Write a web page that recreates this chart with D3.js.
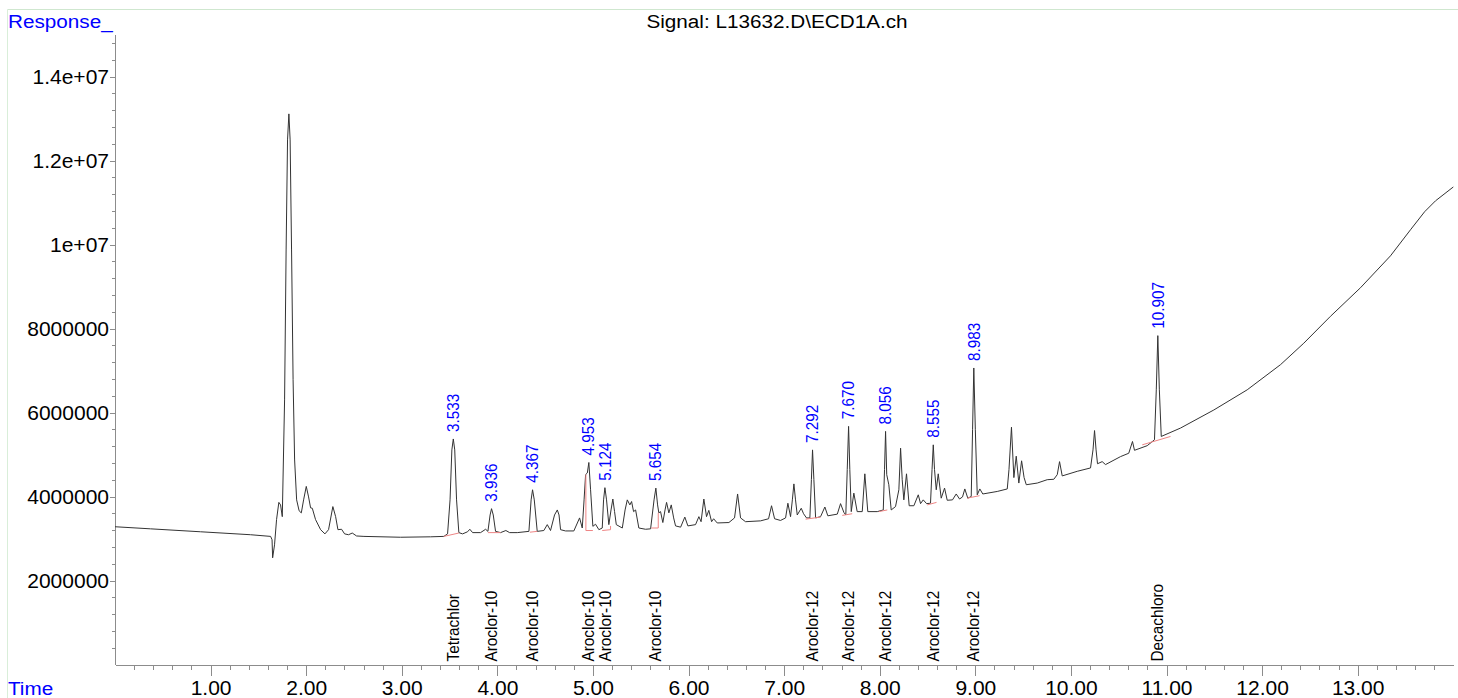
<!DOCTYPE html>
<html><head><meta charset="utf-8">
<script src="https://cdn.jsdelivr.net/npm/d3@7"></script>
<style>
body{margin:0;background:#fff}
svg{display:block}
text{font-family:"Liberation Sans",Arial,Helvetica,sans-serif}
</style>
</head><body>
<svg id="c" width="1458" height="698"></svg>
<script>
// ---------------- DATA ----------------
const title = "Signal: L13632.D\\ECD1A.ch";
const yTitle = "Response_";
const xTitle = "Time";

const xTickValues = [1,2,3,4,5,6,7,8,9,10,11,12,13];
const xTickLabels = ["1.00","2.00","3.00","4.00","5.00","6.00","7.00","8.00","9.00","10.00","11.00","12.00","13.00"];
const yTickValues = [2e6,4e6,6e6,8e6,10e6,12e6,14e6];
const yTickLabels = ["2000000","4000000","6000000","8000000","1e+07","1.2e+07","1.4e+07"];

// chromatogram trace: [retention time (min), response]
const trace = [
[0.000,3.28e6],[0.372,3.23e6],[0.895,3.16e6],[1.418,3.09e6],[1.628,3.05e6],[1.643,2.97e6],[1.649,2.54e6],[1.669,2.85e6],
[1.690,3.45e6],[1.714,3.86e6],[1.732,3.80e6],[1.750,3.52e6],[1.774,6.30e6],[1.790,9.87e6],[1.805,12.49e6],[1.819,13.11e6],
[1.832,12.49e6],[1.847,9.87e6],[1.863,6.78e6],[1.879,4.87e6],[1.900,3.92e6],[1.926,3.66e6],[1.949,3.61e6],[1.973,3.92e6],
[2.001,4.24e6],[2.025,3.99e6],[2.046,3.73e6],[2.064,3.72e6],[2.098,3.45e6],[2.151,3.21e6],[2.196,3.11e6],[2.234,3.21e6],
[2.279,3.76e6],[2.308,3.52e6],[2.332,3.21e6],[2.370,3.22e6],[2.402,3.11e6],[2.443,3.09e6],[2.482,3.13e6],[2.527,3.06e6],
[2.604,3.05e6],[2.987,3.03e6],[3.301,3.04e6],[3.440,3.05e6],[3.479,3.11e6],[3.505,3.92e6],[3.524,5.11e6],[3.539,5.37e6],
[3.554,5.11e6],[3.573,3.92e6],[3.597,3.14e6],[3.636,3.11e6],[3.688,3.16e6],[3.712,3.22e6],[3.741,3.14e6],[3.824,3.14e6],
[3.877,3.22e6],[3.901,3.17e6],[3.924,3.56e6],[3.939,3.71e6],[3.957,3.56e6],[3.981,3.17e6],[4.033,3.14e6],[4.089,3.19e6],
[4.128,3.14e6],[4.208,3.14e6],[4.330,3.17e6],[4.353,3.92e6],[4.368,4.16e6],[4.386,3.92e6],[4.417,3.17e6],[4.486,3.19e6],
[4.522,3.33e6],[4.556,3.19e6],[4.598,3.56e6],[4.627,3.68e6],[4.645,3.56e6],[4.661,3.21e6],[4.713,3.18e6],[4.800,3.18e6],
[4.860,3.49e6],[4.888,3.25e6],[4.907,3.92e6],[4.923,4.52e6],[4.941,4.56e6],[4.957,4.81e6],[4.975,4.16e6],[4.999,3.29e6],
[5.027,3.34e6],[5.062,3.21e6],[5.097,3.25e6],[5.111,3.92e6],[5.125,4.21e6],[5.142,3.92e6],[5.166,3.33e6],[5.189,3.68e6],
[5.208,3.94e6],[5.226,3.64e6],[5.244,3.33e6],[5.307,3.25e6],[5.336,3.68e6],[5.359,3.92e6],[5.386,3.80e6],[5.404,3.88e6],
[5.425,3.64e6],[5.446,3.68e6],[5.480,3.25e6],[5.550,3.22e6],[5.603,3.23e6],[5.639,3.92e6],[5.658,4.20e6],[5.676,3.80e6],
[5.689,3.61e6],[5.707,3.64e6],[5.731,3.38e6],[5.754,3.68e6],[5.770,3.86e6],[5.794,3.61e6],[5.819,3.80e6],[5.844,3.49e6],
[5.864,3.30e6],[5.917,3.27e6],[5.961,3.51e6],[5.993,3.30e6],[6.073,3.33e6],[6.108,3.52e6],[6.131,3.40e6],[6.160,3.94e6],
[6.188,3.52e6],[6.212,3.67e6],[6.241,3.40e6],[6.262,3.47e6],[6.300,3.37e6],[6.422,3.38e6],[6.481,3.49e6],[6.513,4.06e6],
[6.544,3.49e6],[6.596,3.40e6],[6.753,3.42e6],[6.837,3.47e6],[6.868,3.78e6],[6.900,3.47e6],[6.962,3.43e6],[7.015,3.49e6],
[7.039,3.84e6],[7.067,3.52e6],[7.086,3.92e6],[7.102,4.30e6],[7.119,3.92e6],[7.137,3.56e6],[7.179,3.72e6],[7.203,3.59e6],
[7.234,3.49e6],[7.269,3.49e6],[7.285,4.40e6],[7.297,5.11e6],[7.311,4.40e6],[7.329,3.49e6],[7.381,3.52e6],[7.426,3.75e6],
[7.457,3.54e6],[7.556,3.58e6],[7.590,3.83e6],[7.625,3.62e6],[7.645,3.56e6],[7.660,4.64e6],[7.674,5.67e6],[7.687,4.64e6],
[7.702,3.64e6],[7.729,4.08e6],[7.764,3.64e6],[7.817,3.64e6],[7.844,4.54e6],[7.875,3.64e6],[7.974,3.64e6],[8.037,3.68e6],
[8.050,4.64e6],[8.061,5.55e6],[8.073,4.52e6],[8.095,4.28e6],[8.120,3.68e6],[8.165,3.76e6],[8.200,4.16e6],[8.218,5.15e6],
[8.235,4.40e6],[8.252,3.92e6],[8.280,4.54e6],[8.308,3.78e6],[8.357,3.78e6],[8.403,4.04e6],[8.427,3.83e6],[8.455,3.92e6],
[8.490,3.83e6],[8.531,3.84e6],[8.547,4.64e6],[8.560,5.23e6],[8.573,4.64e6],[8.591,4.16e6],[8.612,4.54e6],[8.643,3.96e6],
[8.678,4.20e6],[8.706,3.91e6],[8.761,3.92e6],[8.800,4.06e6],[8.835,3.94e6],[8.866,3.99e6],[8.890,4.18e6],[8.921,3.96e6],
[8.957,4.00e6],[8.971,5.59e6],[8.984,7.06e6],[9.000,5.59e6],[9.020,4.04e6],[9.047,4.18e6],[9.078,4.06e6],[9.229,4.12e6],
[9.334,4.18e6],[9.352,4.64e6],[9.378,5.65e6],[9.403,4.45e6],[9.428,4.96e6],[9.455,4.32e6],[9.484,4.85e6],[9.510,4.45e6],
[9.533,4.28e6],[9.648,4.32e6],[9.752,4.40e6],[9.821,4.41e6],[9.857,4.52e6],[9.881,4.83e6],[9.909,4.49e6],[10.066,4.60e6],
[10.205,4.68e6],[10.231,5.11e6],[10.247,5.57e6],[10.263,5.11e6],[10.278,4.78e6],[10.327,4.83e6],[10.362,4.76e6],[10.519,4.95e6],
[10.605,5.03e6],[10.644,5.31e6],[10.665,5.10e6],[10.798,5.21e6],[10.874,5.35e6],[10.893,6.54e6],[10.909,7.83e6],[10.925,6.54e6],
[10.945,5.43e6],[11.147,5.63e6],[11.495,6.06e6],[11.844,6.54e6],[12.193,7.14e6],[12.436,7.65e6],[12.715,8.29e6],[13.029,8.97e6],
[13.343,9.73e6],[13.552,10.35e6],[13.700,10.78e6],[13.814,11.04e6],[14.000,11.37e6]
];

// integrated peaks
const peakTimes = [3.533,3.936,4.367,4.953,5.124,5.654,7.292,7.670,8.056,8.555,8.983,10.907];
const peakLabels = ["3.533","3.936","4.367","4.953","5.124","5.654","7.292","7.670","8.056","8.555","8.983","10.907"];
const peakHeights = [5.37e6,3.71e6,4.16e6,4.81e6,4.21e6,4.20e6,5.11e6,5.67e6,5.55e6,5.23e6,7.06e6,7.83e6];
const compoundNames = ["Tetrachlor","Aroclor-10","Aroclor-10","Aroclor-10","Aroclor-10","Aroclor-10",
                       "Aroclor-12","Aroclor-12","Aroclor-12","Aroclor-12","Aroclor-12","Decachloro"];

// integration baselines: [time, response] polylines
const integBaselines = [
 [[3.440,3.05e6],[3.597,3.13e6]],
 [[3.901,3.14e6],[4.033,3.14e6]],
 [[4.340,3.15e6],[4.417,3.17e6]],
 [[4.926,4.52e6],[4.926,3.19e6],[4.999,3.19e6]],
 [[5.097,3.19e6],[5.184,3.21e6],[5.184,3.30e6]],
 [[5.610,3.25e6],[5.683,3.25e6],[5.683,3.61e6]],
 [[7.224,3.46e6],[7.381,3.51e6]],
 [[7.608,3.55e6],[7.712,3.59e6]],
 [[7.991,3.64e6],[8.079,3.68e6]],
 [[8.497,3.80e6],[8.594,3.86e6]],
 [[8.915,3.96e6],[9.044,4.02e6]],
 [[10.746,5.23e6],[11.042,5.43e6]]
];

// ---------------- DRAWING ----------------
const W = 1458, H = 698;
const svg = d3.select("#c");
svg.append("rect").attr("width", W).attr("height", H).attr("fill", "#fff");

// light green frame
svg.append("line").attr("x1", 7.5).attr("x2", W).attr("y1", 9.5).attr("y2", 9.5)
  .attr("stroke", "#cfe7cf").attr("stroke-width", 1);
svg.append("line").attr("x1", 7.5).attr("x2", 7.5).attr("y1", 9.5).attr("y2", H)
  .attr("stroke", "#d9eed9").attr("stroke-width", 1);

const x = d3.scaleLinear().domain([0, 14]).range([115, 1453.3]);
const y = d3.scaleLinear().domain([0, 15e6]).range([664.5, 34.5]);

const axisColor = "#8c8c8c";

// X axis (minor + major)
const xMinor = d3.range(1, 70).filter(i => i % 5 !== 0).map(i => i / 5);
const gxMinor = svg.append("g").attr("transform", `translate(0,${y(0)})`)
  .call(d3.axisBottom(x).tickValues(xMinor).tickSize(5).tickSizeOuter(0).tickFormat(""));
const gx = svg.append("g").attr("transform", `translate(0,${y(0)})`)
  .call(d3.axisBottom(x).tickValues(xTickValues).tickSize(11).tickSizeOuter(0)
    .tickFormat((d, i) => xTickLabels[i]));
[gxMinor, gx].forEach(g => {
  g.selectAll("path,line").attr("stroke", axisColor).attr("shape-rendering", "crispEdges");
});
gx.selectAll("text").attr("y", 30).attr("dy", 0).attr("fill", "#000")
  .style("font-size", "21px");

// Y axis (minor + major)
const yMinor = d3.range(1, 38).filter(i => i % 5 !== 0).map(i => i * 4e5);
const gyMinor = svg.append("g").attr("transform", `translate(${x(0)},0)`)
  .call(d3.axisLeft(y).tickValues(yMinor).tickSize(3).tickSizeOuter(0).tickFormat(""));
const gy = svg.append("g").attr("transform", `translate(${x(0)},0)`)
  .call(d3.axisLeft(y).tickValues(yTickValues).tickSize(5).tickSizeOuter(0)
    .tickFormat((d, i) => yTickLabels[i]));
[gyMinor, gy].forEach(g => {
  g.selectAll("path,line").attr("stroke", axisColor).attr("shape-rendering", "crispEdges");
});
gy.selectAll("text").attr("x", -6).attr("dy", "0.32em").attr("fill", "#000")
  .style("font-size", "21px").attr("text-anchor", "end");

// Trace
const line = d3.line().x(d => x(d[0])).y(d => y(d[1]));
svg.append("path").datum(trace).attr("d", line)
  .attr("fill", "none").attr("stroke", "#333").attr("stroke-width", 1)
  .attr("stroke-linejoin", "round");

// Integration baselines
svg.append("g").selectAll("path").data(integBaselines).join("path")
  .attr("d", line).attr("fill", "none").attr("stroke", "#ee8585").attr("stroke-width", 1);

// Peak retention-time labels
svg.append("g").selectAll("text").data(peakTimes).join("text")
  .attr("transform", (d, i) => `translate(${x(d)},${y(peakHeights[i]) - 7}) rotate(-90) scale(0.9,1)`)
  .attr("dy", "0.35em").attr("fill", "#0000ff").style("font-size", "17px")
  .text((d, i) => peakLabels[i]);

// Compound labels along the bottom
svg.append("g").selectAll("text").data(peakTimes).join("text")
  .attr("transform", d => `translate(${x(d)},${y(0) - 3}) rotate(-90) scale(0.93,1)`)
  .attr("dy", "0.35em").attr("fill", "#000").style("font-size", "16.5px")
  .text((d, i) => compoundNames[i]);

// Titles
svg.append("text").attr("transform", "translate(8,28) scale(1.09,1)")
  .attr("fill", "#0000ff").style("font-size", "19px").text(yTitle);
svg.append("text").attr("transform", "translate(8,695) scale(1.09,1)")
  .attr("fill", "#0000ff").style("font-size", "19px").text(xTitle);
svg.append("text").attr("transform", "translate(777,28) scale(1.09,1)")
  .attr("text-anchor", "middle").attr("fill", "#000").style("font-size", "19px").text(title);
</script>
</body></html>
